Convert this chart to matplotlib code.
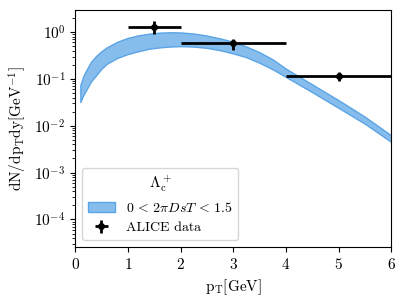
import matplotlib
matplotlib.use('Agg')
import matplotlib.pyplot as plt
import numpy as np

plt.rcParams['font.family'] = 'cmr10'
plt.rcParams['mathtext.fontset'] = 'cm'
plt.rcParams['axes.formatter.use_mathtext'] = True

# model band
pt = [0.1, 0.15, 0.2, 0.3, 0.4, 0.5, 0.6, 0.8, 1.0, 1.2, 1.4, 1.6, 1.8, 2.0,
      2.25, 2.5, 2.75, 3.0, 3.25, 3.5, 3.75, 4.0, 4.5, 5.0, 5.5, 6.0]
band_hi = [0.074, 0.11, 0.145, 0.23, 0.31, 0.39, 0.47, 0.62, 0.75, 0.85, 0.92, 0.97,
           0.99, 0.98, 0.93, 0.84, 0.73, 0.62, 0.49, 0.37, 0.26, 0.165, 0.076,
           0.035, 0.0155, 0.0062]
band_lo = [0.032, 0.044, 0.055, 0.088, 0.12, 0.165, 0.21, 0.28, 0.34, 0.39, 0.44, 0.47,
           0.49, 0.50, 0.49, 0.46, 0.41, 0.35, 0.29, 0.22, 0.16, 0.11, 0.052,
           0.024, 0.011, 0.0045]

# ALICE data
data_x = [1.5, 3.0, 5.0]
data_y = [1.30, 0.57, 0.117]
data_xerr = [0.5, 1.0, 1.0]
data_yerr = [0.40, 0.15, 0.025]

fig = plt.figure(figsize=(4.06, 3.04), dpi=100)
ax = fig.add_axes([0.185, 0.188, 0.779, 0.779])

ax.fill_between(pt, band_lo, band_hi, facecolor='#86bdec', edgecolor='#5ba4e5',
                linewidth=1, label=r'$0\,<\,2\pi DsT\,<\,1.5$')
ax.errorbar(data_x, data_y, xerr=data_xerr, yerr=data_yerr, fmt='o', color='black',
            ms=4, elinewidth=2, capsize=0, label='ALICE data')

ax.set_yscale('log')
ax.set_xlim(0, 6)
ax.set_ylim(2.6e-5, 2.95)
ax.set_xlabel(r'$\mathrm{p_T[GeV]}$', fontsize=11)
ax.set_ylabel(r'$\mathrm{dN/dp_Tdy[GeV^{-1}]}$', fontsize=11)
ax.tick_params(labelsize=11)

leg = ax.legend(loc='lower left', title=r'$\Lambda_\mathrm{c}^+$', fontsize=10,
                title_fontsize=11)

fig.savefig('out.png', dpi=100)
